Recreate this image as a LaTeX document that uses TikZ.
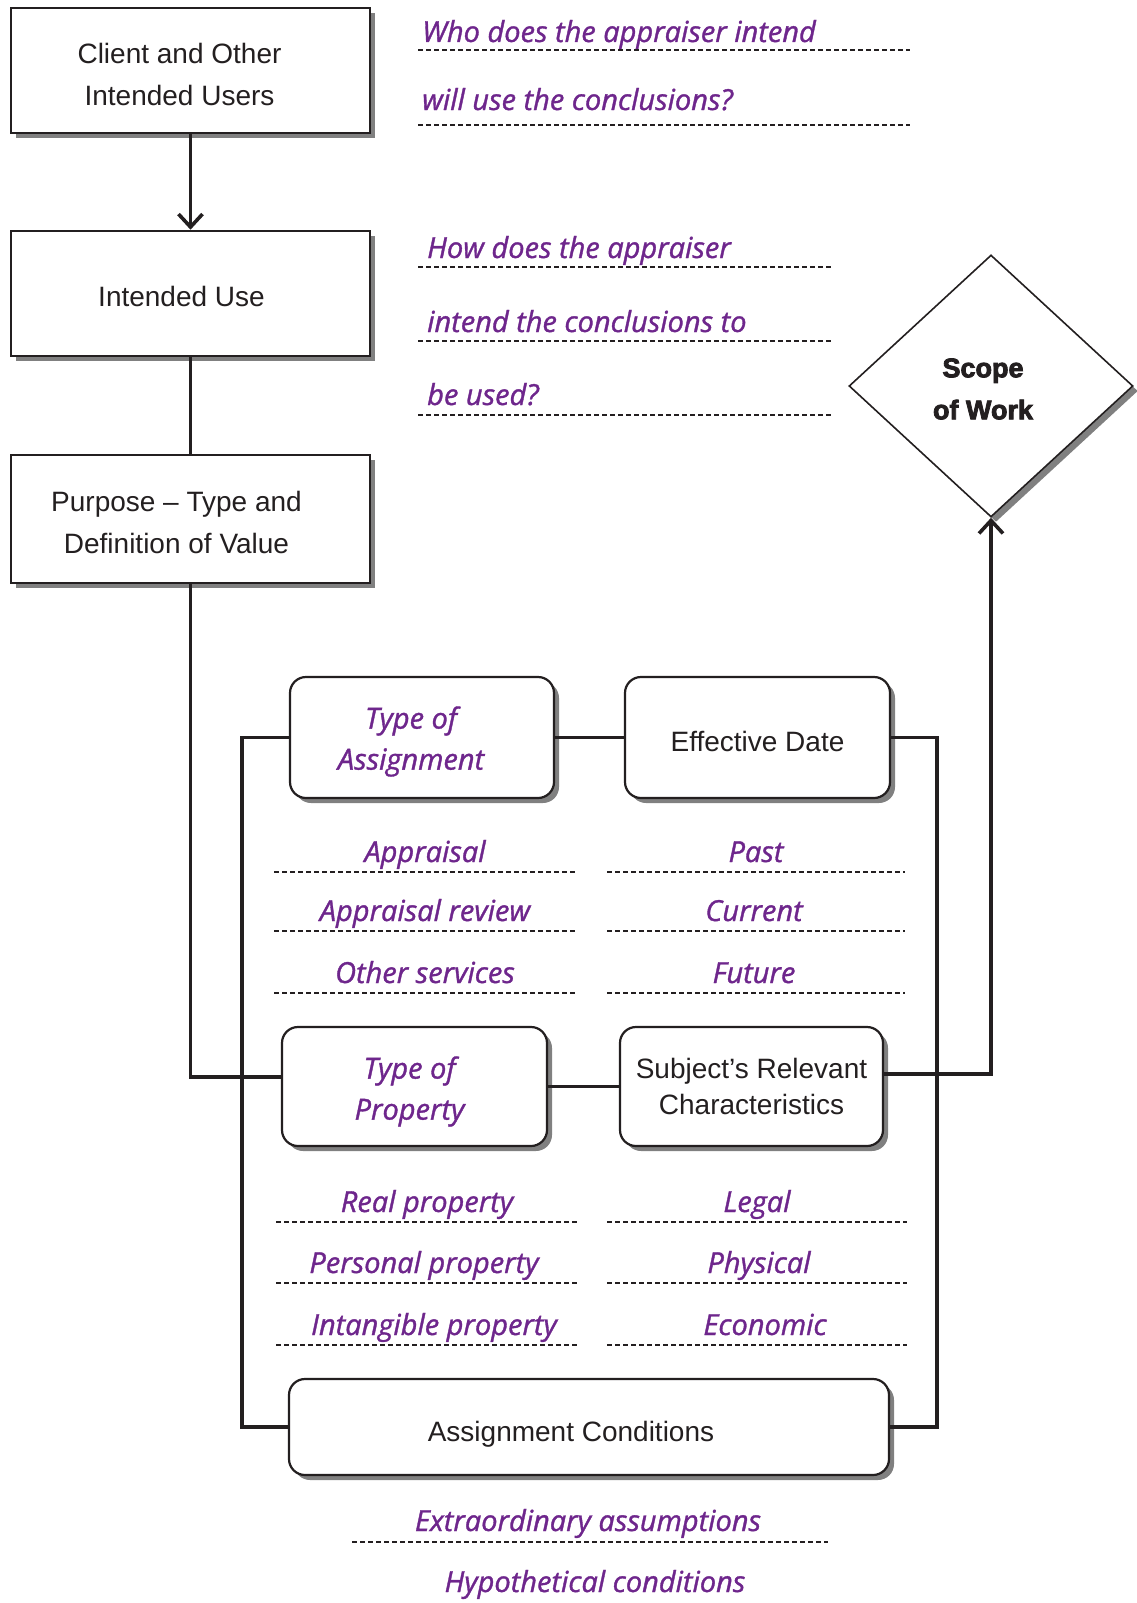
\documentclass[tikz,border=0pt]{standalone}
\usepackage{fontspec}
\setmainfont{Liberation Sans}
\newfontfamily\handfont{Open Sans Italic}[FakeBold=1.2]
\newfontfamily\scopefont{Liberation Sans Bold}[FakeBold=3]
\usetikzlibrary{shapes.geometric,arrows.meta,calc,shadows}
\definecolor{ink}{RGB}{35,31,32}
\definecolor{purp}{RGB}{110,38,140}
\definecolor{shade}{RGB}{128,128,128}
\begin{document}
\begin{tikzpicture}[x=1pt,y=-1pt,
  sqbox/.style={draw=ink, line width=2.6pt, fill=white, minimum width=359pt, minimum height=125pt, inner sep=0pt, drop shadow={shadow xshift=5pt, shadow yshift=-5pt, opacity=1, fill=shade}},
  boxtxt/.style={text=ink, align=center, font=\fontsize{28}{42}\selectfont},
  rbox/.style={draw=ink, line width=2.2pt, fill=white, rounded corners=16pt, inner sep=0pt, drop shadow={shadow xshift=5pt, shadow yshift=-5pt, opacity=1, fill=shade}},
  handtxt/.style={text=purp, font=\handfont\fontsize{29}{41}\selectfont, inner sep=0pt},
  wire/.style={draw=ink, line width=3.4pt},
  arrowhd/.style={-{Straight Barb[length=13pt,width=24pt,line width'=3.6pt]}},
  dline/.style={draw=ink, line width=1.8pt, dash pattern=on 5pt off 3pt}
]
\useasboundingbox (0,0) rectangle (1136,1603);

% left column boxes
\node[sqbox, label={[boxtxt, xshift=-11pt, yshift=-4pt]center:Client and Other\\Intended Users}] (users) at (190.5,70.5) {};
\node[sqbox, label={[boxtxt, xshift=-9pt, yshift=-3pt]center:Intended Use}] (use) at (190.5,293.5) {};
\node[sqbox, minimum height=128pt, label={[boxtxt, xshift=-14pt, yshift=-3pt]center:Purpose \textendash{} Type and\\Definition of Value}] (purpose) at (190.5,519) {};

% scope of work
\node[diamond, draw=ink, line width=1.6pt, fill=white, minimum width=284pt, minimum height=262pt, inner sep=0pt, drop shadow={shadow xshift=5pt, shadow yshift=-5pt, opacity=1, fill=shade}] (scope) at (991,386) {};
\node[font=\scopefont\fontsize{27}{42}\selectfont, align=center, text=ink] (scopetxt) at (983,389) {Scope\\of Work};

% middle boxes
\node[rbox, minimum width=264pt, minimum height=121pt,
      label={[handtxt, align=center, xshift=-11pt, yshift=-4pt]center:Type of\\Assignment}] (tassign) at (422,737.5) {};
\node[rbox, minimum width=265pt, minimum height=121pt,
      label={[boxtxt, yshift=-4pt]center:Effective Date}] (effdate) at (757.5,737.5) {};
\node[rbox, minimum width=265pt, minimum height=119pt,
      label={[handtxt, align=center, xshift=-5pt, yshift=-5pt]center:Type of\\Property}] (tprop) at (414.5,1086.5) {};
\node[rbox, minimum width=263pt, minimum height=119pt,
      label={[boxtxt, font=\fontsize{28}{36}\selectfont]center:Subject’s Relevant\\Characteristics}] (subj) at (751.5,1086.5) {};
\node[rbox, minimum width=600pt, minimum height=96pt,
      label={[boxtxt, xshift=-18pt, yshift=-7pt]center:Assignment Conditions}] (acond) at (589,1427) {};

% questions
\node[handtxt, anchor=base west] (q1) at (422,42) {Who does the appraiser intend};
\draw[dline] (418,50) -- (910,50);
\node[handtxt, anchor=base west] (q2) at (422,110) {will use the conclusions?};
\draw[dline] (418,125) -- (910,125);
\node[handtxt, anchor=base west] (q3) at (427,258) {How does the appraiser};
\draw[dline] (418,267) -- (833,267);
\node[handtxt, anchor=base west] (q4) at (427,332) {intend the conclusions to};
\draw[dline] (418,341) -- (833,341);
\node[handtxt, anchor=base west] (q5) at (427,405) {be used?};
\draw[dline] (418,415) -- (833,415);

% assignment / date items
\node[handtxt, anchor=base] (a1) at (425,862) {Appraisal};
\draw[dline] (274,872) -- (576,872);
\node[handtxt, anchor=base] (a2) at (425,921) {Appraisal review};
\draw[dline] (274,931) -- (576,931);
\node[handtxt, anchor=base] (a3) at (425,983) {Other services};
\draw[dline] (274,993) -- (576,993);
\node[handtxt, anchor=base] (d1) at (756,862) {Past};
\draw[dline] (607,872) -- (905,872);
\node[handtxt, anchor=base] (d2) at (754,921) {Current};
\draw[dline] (607,931) -- (905,931);
\node[handtxt, anchor=base] (d3) at (754,983) {Future};
\draw[dline] (607,993) -- (905,993);

% property / characteristics items
\node[handtxt, anchor=base] (p1) at (427,1212) {Real property};
\draw[dline] (276,1222) -- (579,1222);
\node[handtxt, anchor=base] (p2) at (424,1273) {Personal property};
\draw[dline] (276,1283) -- (579,1283);
\node[handtxt, anchor=base] (p3) at (434,1335) {Intangible property};
\draw[dline] (276,1345) -- (579,1345);
\node[handtxt, anchor=base] (c1) at (757,1212) {Legal};
\draw[dline] (607,1222) -- (907,1222);
\node[handtxt, anchor=base] (c2) at (759,1273) {Physical};
\draw[dline] (607,1283) -- (907,1283);
\node[handtxt, anchor=base] (c3) at (765,1335) {Economic};
\draw[dline] (607,1345) -- (907,1345);

% conditions items
\node[handtxt, anchor=base] (e1) at (588,1531) {Extraordinary assumptions};
\draw[dline] (352,1542) -- (828,1542);
\node[handtxt, anchor=base] (e2) at (595,1592) {Hypothetical conditions};

% connectors
\draw[wire, arrowhd] (users.south) -- (use.north);
\draw[wire] (use.south) -- (purpose.north);
\draw[wire] (purpose.south) |- ($(tprop.west)+(0,-9.5)$);
\draw[wire] (tassign.east) -- (effdate.west);
\draw[wire] (tprop.east) -- (subj.west);
\coordinate (lbus) at (242,1427);
\coordinate (rbus) at (937,1427);
\draw[wire] (tassign.west) -| (lbus) -- (acond.west);
\draw[wire] (effdate.east) -| (rbus) -- (acond.east);
\draw[wire, arrowhd] ($(subj.east)+(0,-12.5)$) -| (scope.south);
\end{tikzpicture}
\end{document}
